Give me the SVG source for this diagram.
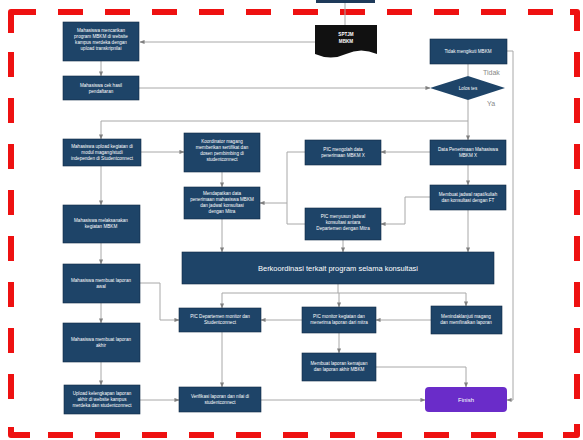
<svg xmlns="http://www.w3.org/2000/svg" width="583" height="440" viewBox="0 0 583 440">
<style>
.b{fill:#1e4468;stroke:#0f2a44;stroke-width:0.6}
.t{font-family:"Liberation Sans",Arial,sans-serif;font-size:4.6px;fill:#ffffff;text-anchor:middle}
.c{fill:none;stroke:#a8a8a8;stroke-width:1}
.l{font-family:"Liberation Sans",Arial,sans-serif;font-size:7px;fill:#888888}
.r{fill:none;stroke:#ee1111;stroke-width:6;stroke-dasharray:25 22}
.rc{fill:none;stroke:#ee1111;stroke-width:6;stroke-linejoin:round}
</style>
<defs>
<marker id="a" viewBox="0 0 6 6" refX="5.5" refY="3" markerWidth="5" markerHeight="5" orient="auto" markerUnits="userSpaceOnUse">
<path d="M0,0.5 L6,3 L0,5.5 z" fill="#808080"/>
</marker>
</defs>
<rect width="583" height="440" fill="#ffffff"/>
<g id="border">
<path class="r" d="M58,12 H555"/>
<path class="r" style="stroke-dasharray:25 21" d="M11,52 V400"/>
<path class="r" d="M48,435 H548"/>
<path class="r" style="stroke-dasharray:25 21" d="M577,52 V404"/>
<path class="rc" d="M11,33 V12 H36"/>
<path class="rc" d="M570,12 H577 V31"/>
<path class="rc" d="M11,427 V435 H30"/>
<path class="rc" d="M563,435 H577 V424"/>
</g>

<g id="connectors">
<path class="c" d="M345,3 V25"/>
<path class="c" d="M315,42 H140" marker-end="url(#a)"/>
<path class="c" d="M101,61 V76" marker-end="url(#a)"/>
<path class="c" d="M139,88 H430" marker-end="url(#a)"/>
<path class="c" d="M468,76 V64"/>
<path class="c" d="M507,51 H513 V400 H507" marker-end="url(#a)"/>
<path class="c" d="M468,100 V140" marker-end="url(#a)"/>
<path class="c" d="M468,121 H101 V139" marker-end="url(#a)"/>
<path class="c" d="M141,152 H184" marker-end="url(#a)"/>
<path class="c" d="M430,152 H381" marker-end="url(#a)"/>
<path class="c" d="M468,165 V185" marker-end="url(#a)"/>
<path class="c" d="M430,197 H405 V224 H381" marker-end="url(#a)"/>
<path class="c" d="M222,172 V187" marker-end="url(#a)"/>
<path class="c" d="M305,152 H287 V224 H305"/>
<path class="c" d="M287,203 H260" marker-end="url(#a)"/>
<path class="c" d="M101,166 V205" marker-end="url(#a)"/>
<path class="c" d="M222,219 V252" marker-end="url(#a)"/>
<path class="c" d="M343,240 V252" marker-end="url(#a)"/>
<path class="c" d="M468,210 V252" marker-end="url(#a)"/>
<path class="c" d="M338,284 V293"/>
<path class="c" d="M222,293 H466"/>
<path class="c" d="M222,293 V308" marker-end="url(#a)"/>
<path class="c" d="M339,293 V307" marker-end="url(#a)"/>
<path class="c" d="M466,293 V306" marker-end="url(#a)"/>
<path class="c" d="M101,243 V264" marker-end="url(#a)"/>
<path class="c" d="M140,283 H160 V320 H179" marker-end="url(#a)"/>
<path class="c" d="M302,320 H261" marker-end="url(#a)"/>
<path class="c" d="M431,320 H376" marker-end="url(#a)"/>
<path class="c" d="M101,303 V323" marker-end="url(#a)"/>
<path class="c" d="M101,362 V385" marker-end="url(#a)"/>
<path class="c" d="M339,333 V353" marker-end="url(#a)"/>
<path class="c" d="M140,400 H179" marker-end="url(#a)"/>
<path class="c" d="M222,332 V387" marker-end="url(#a)"/>
<path class="c" d="M261,400 H425" marker-end="url(#a)"/>
<path class="c" d="M376,367 H466 V387" marker-end="url(#a)"/>
</g>
<text class="l" x="483" y="75">Tidak</text>
<text class="l" x="487" y="106">Ya</text>

<g id="n-top"><rect x="316" y="-6" width="59" height="9" fill="#1e3a5a"/></g>
<g id="n-doc"><path d="M315,25 H377 V54 Q361,47 346,54 Q331,61 315,54 Z" fill="#111111"/>
<text class="t" style="font-weight:bold" x="346" y="36">SPTJM</text><text class="t" style="font-weight:bold" x="346" y="43">MBKM</text></g>

<g id="n1"><rect class="b" x="63" y="22" width="76" height="39"/>
<text class="t" x="101" y="32">Mahasiswa mencarikan</text><text class="t" x="101" y="38">program MBKM di website</text><text class="t" x="101" y="44">kampus merdeka dengan</text><text class="t" x="101" y="50">upload transkripnilai</text></g>
<g id="n2"><rect class="b" x="63" y="76" width="76" height="24"/>
<text class="t" x="101" y="87">Mahasiswa cek hasil</text><text class="t" x="101" y="93">pendaftaran</text></g>
<g id="n3"><rect class="b" x="430" y="39" width="77" height="25"/>
<text class="t" x="468" y="53">Tidak mengikuti MBKM</text></g>
<g id="n4"><path d="M468,76 L505,88 L468,100 L430,88 Z" fill="#1e4468"/>
<text class="t" x="468" y="90">Lolos tes</text></g>

<g id="n5"><rect class="b" x="63" y="139" width="78" height="27"/>
<text class="t" x="102" y="148">Mahasiswa upload kegiatan di</text><text class="t" x="102" y="154">modul magang/studi</text><text class="t" x="102" y="160">independen di Studentconnect</text></g>
<g id="n6"><rect class="b" x="184" y="133" width="76" height="39"/>
<text class="t" x="222" y="143">Koordinator magang</text><text class="t" x="222" y="149">memberikan sertifikat dan</text><text class="t" x="222" y="155">dosen pembimbing di</text><text class="t" x="222" y="161">studentconnect</text></g>
<g id="n7"><rect class="b" x="305" y="140" width="76" height="25"/>
<text class="t" x="343" y="151">PIC mengolah data</text><text class="t" x="343" y="157">penerimaan MBKM X</text></g>
<g id="n8"><rect class="b" x="430" y="140" width="76" height="25"/>
<text class="t" x="468" y="151">Data Penerimaan Mahasiswa</text><text class="t" x="468" y="157">MBKM X</text></g>
<g id="n9"><rect class="b" x="430" y="185" width="76" height="25"/>
<text class="t" x="468" y="196">Membuat jadwal rapat/kuliah</text><text class="t" x="468" y="202">dan konsultasi dengan FT</text></g>
<g id="n10"><rect class="b" x="305" y="208" width="76" height="32"/>
<text class="t" x="343" y="218">PIC menyusun jadwal</text><text class="t" x="343" y="224">konsultasi antara</text><text class="t" x="343" y="230">Departemen dengan Mitra</text></g>
<g id="n11"><rect class="b" x="184" y="187" width="76" height="32"/>
<text class="t" x="222" y="195">Mendapatkan data</text><text class="t" x="222" y="201">penerimaan mahasiswa MBKM</text><text class="t" x="222" y="207">dan jadwal konsultasi</text><text class="t" x="222" y="213">dengan Mitra</text></g>
<g id="n12"><rect class="b" x="63" y="205" width="77" height="38"/>
<text class="t" x="101" y="222">Mahasiswa melaksanakan</text><text class="t" x="101" y="228">kegiatan MBKM</text></g>
<g id="n13"><rect class="b" x="182" y="252" width="312" height="32"/>
<text class="t" style="font-size:7.5px" x="338" y="271">Berkoordinasi terkait program selama konsultasi</text></g>
<g id="n14"><rect class="b" x="63" y="264" width="77" height="39"/>
<text class="t" x="101" y="282">Mahasiswa membuat laporan</text><text class="t" x="101" y="288">awal</text></g>
<g id="n15"><rect class="b" x="179" y="308" width="82" height="24"/>
<text class="t" x="220" y="318">PIC Departemen monitor dan</text><text class="t" x="220" y="324">Studentconnect</text></g>
<g id="n16"><rect class="b" x="302" y="307" width="74" height="26"/>
<text class="t" x="339" y="318">PIC monitor kegiatan dan</text><text class="t" x="339" y="324">menerima laporan dari mitra</text></g>
<g id="n17"><rect class="b" x="431" y="306" width="71" height="28"/>
<text class="t" x="466" y="318">Menindaklanjuti magang</text><text class="t" x="466" y="324">dan memfinalkan laporan</text></g>
<g id="n18"><rect class="b" x="63" y="323" width="77" height="39"/>
<text class="t" x="101" y="341">Mahasiswa membuat laporan</text><text class="t" x="101" y="347">akhir</text></g>
<g id="n19"><rect class="b" x="64" y="385" width="76" height="29"/>
<text class="t" x="102" y="395">Upload kelengkapan laporan</text><text class="t" x="102" y="401">akhir di website kampus</text><text class="t" x="102" y="407">merdeka dan studentconnect</text></g>
<g id="n20"><rect class="b" x="302" y="353" width="74" height="28"/>
<text class="t" x="339" y="365">Membuat laporan kemajuan</text><text class="t" x="339" y="371">dan laporan akhir MBKM</text></g>
<g id="n21"><rect class="b" x="179" y="387" width="82" height="25"/>
<text class="t" x="220" y="398">Verifikasi laporan dan nilai di</text><text class="t" x="220" y="404">studentconnect</text></g>
<g id="n22"><rect x="425" y="387" width="82" height="25" rx="4" fill="#6a2cc9"/>
<text class="t" style="font-size:6px" x="466" y="402">Finish</text></g>
</svg>
